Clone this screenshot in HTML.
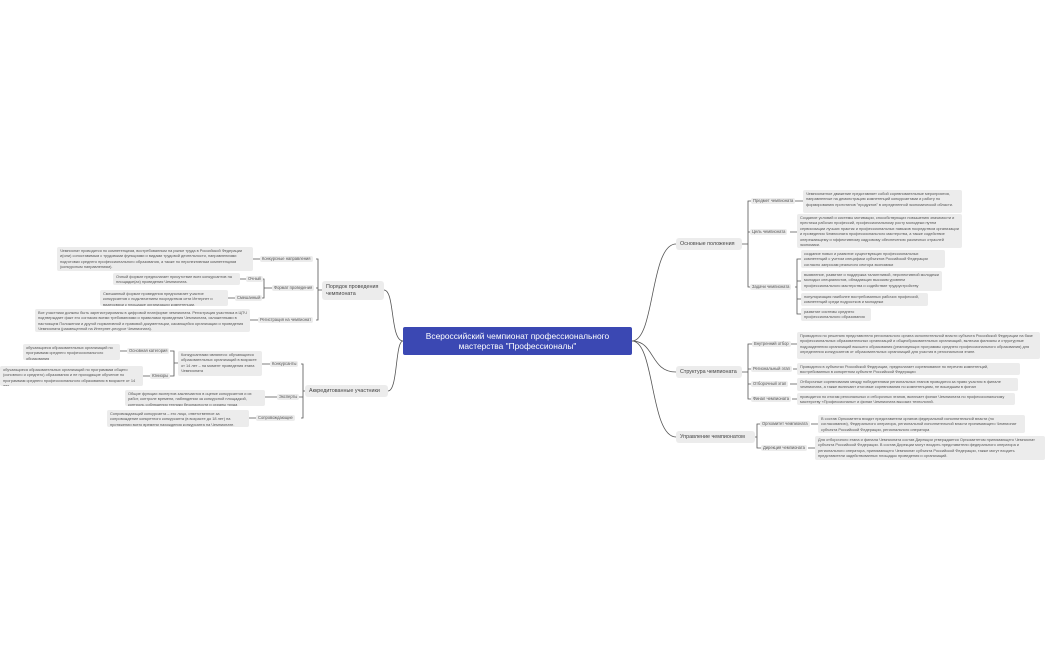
<!DOCTYPE html>
<html><head><meta charset="utf-8"><style>
body{margin:0;width:1051px;height:650px;background:#fff;position:relative;overflow:hidden;font-family:"Liberation Sans",sans-serif;color:#555}
.b{position:absolute;background:#ececec;border-radius:2px;font-size:3.9px;line-height:5.4px;padding:1px 3px;box-sizing:border-box;color:#555;overflow:hidden}
.s{position:absolute;background:#ececec;border-radius:2px;font-size:4.1px;line-height:6px;padding:0 2px;white-space:nowrap;transform:translateY(-50%)}
.m{position:absolute;background:#ececec;border-radius:3px;font-size:5.4px;line-height:7px;padding:2px 4px;box-sizing:border-box;color:#444;display:flex;align-items:center;white-space:nowrap}
.c{position:absolute;left:403px;top:327px;width:229px;height:28px;background:#3b48b3;border-radius:2px;color:#fff;font-size:8.4px;line-height:10px;text-align:center;display:flex;align-items:center;justify-content:center}
svg{position:absolute;left:0;top:0}
</style></head><body>
<svg width="1051" height="650" fill="none" stroke="#555" stroke-width="0.8">
<path d="M632 341 C655 341 650 244 676 244"/>
<path d="M632 341 C655 341 650 372 676 372"/>
<path d="M632 341 C655 341 650 437 676 437"/>
<path d="M403 341 C390 341 395 290 384 290"/>
<path d="M403 341 C395 341 398 391 388 391"/>
<path d="M322 290 H318 M316 259 H318 V320 H316 M316 288 H318"/>
<path d="M272 288 H266 M262 279 H264 V298 H262 M264 288 H266"/>
<path d="M260 259 H253 M246 279 H240 M235 298 H228 M258 320 H250"/>
<path d="M305 391 H303 M301 364 H303 V418 H301 M298 397 H303"/>
<path d="M270 364 H262 M277 397 H265 M256 418 H249"/>
<path d="M178 363 H174 M170 351 H174 V376 H170"/>
<path d="M127 351 H120 M150 376 H143"/>
<path d="M742 244 H748 M751 201 H748 V287 H750 M748 232 H750"/>
<path d="M795 201 H803 M790 232 H797"/>
<path d="M795 287 H797 M801 259 H797 V314 H801 M797 281 H801 M797 299 H801"/>
<path d="M742 372 H748 M752 344 H748 V399 H751 M748 369 H751 M748 384 H751"/>
<path d="M790 344 H797 M793 369 H797 M790 384 H797 M792 399 H797"/>
<path d="M755 437 H757 M760 424 H757 V448 H761"/>
<path d="M811 424 H818 M808 448 H815"/>
</svg>
<div class="c">Всероссийский чемпионат профессионального<br>мастерства "Профессионалы"</div>

<div class="m" style="left:322px;top:281px;width:62px;height:19px;line-height:6.5px;white-space:normal">Порядок проведения чемпионата</div>
<div class="s" style="left:260px;top:259px">Конкурсные направления</div>
<div class="b" style="left:57px;top:247px;width:196px;height:24px">Чемпионат проводится по компетенциям, востребованным на рынке труда в Российской Федерации и(или) сопоставимым с трудовыми функциями и видами трудовой деятельности, направлениями подготовки среднего профессионального образования, а также по перспективным компетенциям (конкурсным направлениям).</div>
<div class="s" style="left:272px;top:288px">Формат проведения</div>
<div class="s" style="left:246px;top:279px">Очный</div>
<div class="b" style="left:113px;top:273px;width:127px;height:12px">Очный формат предполагает присутствие всех конкурсантов на площадке(ах) проведения Чемпионата.</div>
<div class="s" style="left:235px;top:298px">Смешанный</div>
<div class="b" style="left:100px;top:290px;width:128px;height:16px">Смешанный формат проведения предполагает участие конкурсантов с подключением посредством сети Интернет и видеосвязи к площадке организации компетенции.</div>
<div class="s" style="left:258px;top:320px">Регистрация на чемпионат</div>
<div class="b" style="left:35px;top:309px;width:215px;height:23px">Все участники должны быть зарегистрированы в цифровой платформе чемпионата. Регистрация участника в ЦПЧ подтверждает факт его согласия всеми требованиями и правилами проведения Чемпионата, изложенными в настоящем Положении и другой нормативной и правовой документации, касающейся организации и проведения Чемпионата (размещенной на Интернет-ресурсе Чемпионата).</div>

<div class="m" style="left:305px;top:385px;width:83px;height:12px">Аккредитованные участники</div>
<div class="s" style="left:270px;top:364px">Конкурсанты</div>
<div class="b" style="left:178px;top:351px;width:84px;height:25px">Конкурсантами являются: обучающиеся образовательных организаций в возрасте от 14 лет – на момент проведения этапа Чемпионата</div>
<div class="s" style="left:127px;top:351px">Основная категория</div>
<div class="b" style="left:23px;top:344px;width:97px;height:16px">обучающиеся образовательных организаций по программам среднего профессионального образования</div>
<div class="s" style="left:150px;top:376px">Юниоры</div>
<div class="b" style="left:0px;top:366px;width:143px;height:20px">обучающиеся образовательных организаций по программам общего (основного и среднего) образования и не проходящие обучение по программам среднего профессионального образования в возрасте от 14 лет</div>
<div class="s" style="left:277px;top:397px">Эксперты</div>
<div class="b" style="left:125px;top:390px;width:140px;height:16px">Общие функции экспертов заключаются в оценке конкурсантов и их работ, контроле времени, наблюдении за конкурсной площадкой, контроль соблюдения техники безопасности и охраны труда</div>
<div class="s" style="left:256px;top:418px">Сопровождающие</div>
<div class="b" style="left:107px;top:410px;width:142px;height:17px">Сопровождающий конкурсанта – это лицо, ответственное за сопровождение конкретного конкурсанта (в возрасте до 18 лет) на протяжении всего времени нахождения конкурсанта на Чемпионате.</div>

<div class="m" style="left:676px;top:238px;width:66px;height:12px">Основные положения</div>
<div class="s" style="left:751px;top:201px">Предмет чемпионата</div>
<div class="b" style="left:803px;top:190px;width:159px;height:23px">Чемпионатное движение представляет собой соревновательные мероприятия, направленные на демонстрацию компетенций конкурсантами и работу по формированию прототипов "продуктов" в определенной экономической области.</div>
<div class="s" style="left:750px;top:232px">Цель чемпионата</div>
<div class="b" style="left:797px;top:214px;width:165px;height:34px">Создание условий и системы мотивации, способствующих повышению значимости и престижа рабочих профессий, профессиональному росту молодежи путем сервисизации лучших практик и профессиональных навыков посредством организации и проведения Чемпионата профессионального мастерства, а также содействие опережающему и эффективному кадровому обеспечению различных отраслей экономики.</div>
<div class="s" style="left:750px;top:287px">Задачи чемпионата</div>
<div class="b" style="left:801px;top:250px;width:144px;height:18px">создание новых и развитие существующих профессиональных компетенций с учетом специфики субъектов Российской Федерации согласно запросам реального сектора экономики</div>
<div class="b" style="left:801px;top:271px;width:141px;height:20px">выявление, развитие и поддержка талантливой, перспективной молодежи молодых специалистов, обладающих высоким уровнем профессионального мастерства и содействие трудоустройству</div>
<div class="b" style="left:801px;top:293px;width:127px;height:13px">популяризация наиболее востребованных рабочих профессий, компетенций среди подростков и молодежи</div>
<div class="b" style="left:801px;top:308px;width:70px;height:13px">развитие системы среднего профессионального образования</div>

<div class="m" style="left:676px;top:366px;width:66px;height:12px">Структура чемпионата</div>
<div class="s" style="left:752px;top:344px">Внутренний отбор</div>
<div class="b" style="left:797px;top:332px;width:243px;height:27px">Проводится по решению представителя регионального органа исполнительной власти субъекта Российской Федерации на базе профессиональных образовательных организаций и общеобразовательных организаций, включая филиалы и структурные подразделения организаций высшего образования (реализующих программы среднего профессионального образования) для определения конкурсантов от образовательных организаций для участия в региональном этапе.</div>
<div class="s" style="left:751px;top:369px">Региональный этап</div>
<div class="b" style="left:797px;top:363px;width:223px;height:12px">Проводится в субъектах Российской Федерации, предполагает соревнование по перечню компетенций, востребованных в конкретном субъекте Российской Федерации</div>
<div class="s" style="left:751px;top:384px">Отборочный этап</div>
<div class="b" style="left:797px;top:378px;width:221px;height:13px">Отборочные соревнования между победителями региональных этапов проводятся за право участия в финале чемпионата, а также включают итоговые соревнования по компетенциям, не вошедшим в финал</div>
<div class="s" style="left:751px;top:399px">Финал чемпионата</div>
<div class="b" style="left:797px;top:393px;width:218px;height:12px">проводится по итогам региональных и отборочных этапов, включает финал Чемпионата по профессиональному мастерству «Профессионалы» и финал Чемпионата высоких технологий.</div>

<div class="m" style="left:676px;top:431px;width:79px;height:12px">Управление чемпионатом</div>
<div class="s" style="left:760px;top:424px">Оргкомитет чемпионата</div>
<div class="b" style="left:818px;top:415px;width:207px;height:18px">В состав Оргкомитета входят представители органов федеральной исполнительной власти (по согласованию), Федерального оператора, региональной исполнительной власти принимающего Чемпионат субъекта Российской Федерации, регионального оператора</div>
<div class="s" style="left:761px;top:448px">Дирекция чемпионата</div>
<div class="b" style="left:815px;top:436px;width:230px;height:24px">Для отборочного этапа и финала Чемпионата состав Дирекции утверждается Оргкомитетом принимающего Чемпионат субъекта Российской Федерации. В состав Дирекции могут входить представители федерального оператора и регионального оператора, принимающего Чемпионат субъекта Российской Федерации, также могут входить представители задействованных площадок проведения и организаций.</div>
</body></html>
